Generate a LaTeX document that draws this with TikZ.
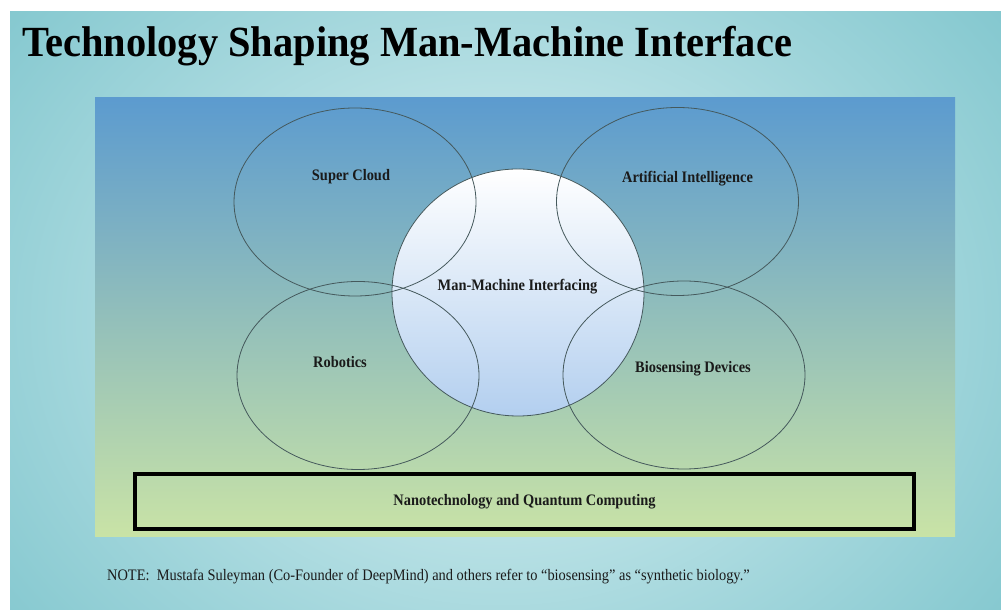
\documentclass[tikz,border=0pt]{standalone}
\usepackage{fontspec}
\setmainfont{Liberation Serif}
\usepackage{graphicx}
\usepackage{xcolor}
\usetikzlibrary{shapes.geometric}

\definecolor{bgin}{HTML}{DDF2F4}
\definecolor{bgout}{HTML}{7AC3CB}
\definecolor{paneltop}{HTML}{5C9BCF}
\definecolor{panelmid}{HTML}{8CC6AE}
\definecolor{panelbot}{HTML}{C9E3A6}
\definecolor{hubbot}{HTML}{B3CFEF}
\definecolor{ringline}{HTML}{45595C}
\definecolor{labeltext}{HTML}{1A1A1A}

\newcommand{\squeeze}[1]{\scalebox{0.9}[1]{#1}}

\tikzset{
    focus-panel/.style = {rectangle, inner sep=0pt, minimum width=860pt, minimum height=439pt, top color=paneltop, middle color=panelmid, bottom color=panelbot},
    topic-ring/.style = {ellipse, draw=ringline, line width=0.8pt, inner sep=0pt, minimum width=242pt, minimum height=188pt},
    hub-disc/.style = {ellipse, draw=ringline, line width=0.8pt, inner sep=0pt, minimum width=252pt, minimum height=247pt, top color=white, bottom color=hubbot},
    topic-label/.style = {anchor=base, inner sep=0pt, text=labeltext, font=\fontsize{16}{18}\selectfont\bfseries},
    base-box/.style = {draw=black, line width=4pt, rectangle, inner sep=0pt, minimum width=779pt, minimum height=55pt, text=labeltext, font=\fontsize{16}{18}\selectfont\bfseries},
}

\begin{document}
\begin{tikzpicture}[x=1pt, y=1pt]
\fill[white] (0,0) rectangle (1001,610);
\useasboundingbox (0,0) rectangle (1001,610);
\begin{scope}
    \clip (10,0) rectangle (1001,598);
    \shade[inner color=bgin, outer color=bgout] (-200,-280) rectangle (1200,860);
\end{scope}

\node[anchor=base west, inner sep=0pt, font=\fontsize{43}{46}\selectfont\bfseries] (title) at (22,553)
    {\scalebox{0.94}[1]{Technology Shaping Man-Machine Interface}};

\node[focus-panel] (panel) at (525,292.5) {};

% centre disc first, rings on top of it
\node[hub-disc] (hub) at (518,317.5) {};
\node[topic-ring] (cloud) at (355,408) {};
\node[topic-ring] (ai) at (677.5,408.5) {};
\node[topic-ring] (robot) at (358,234.5) {};
\node[topic-ring] (bio) at (684,235) {};

\node[topic-label] (hub-text) at ([xshift=-0.5pt, yshift=1.8pt]hub.center) {\squeeze{Man-Machine Interfacing}};
\node[topic-label] (cloud-text) at ([xshift=-4pt, yshift=21pt]cloud.center) {\squeeze{Super Cloud}};
\node[topic-label] (ai-text) at ([xshift=10pt, yshift=18.5pt]ai.center) {\squeeze{Artificial Intelligence}};
\node[topic-label] (robot-text) at ([xshift=-18pt, yshift=7.5pt]robot.center) {\squeeze{Robotics}};
\node[topic-label] (bio-text) at ([xshift=9pt, yshift=2.3pt]bio.center) {\squeeze{Biosensing Devices}};

\node[base-box] (nano) at (524.5,108.5) {\squeeze{Nanotechnology and Quantum Computing}};

\node[anchor=base west, inner sep=0pt, text=labeltext, font=\fontsize{16}{18}\selectfont] (note) at (107,29.3)
    {\squeeze{NOTE:\ \ Mustafa Suleyman (Co-Founder of DeepMind) and others refer to ``biosensing'' as ``synthetic biology.''}};
\end{tikzpicture}
\end{document}
